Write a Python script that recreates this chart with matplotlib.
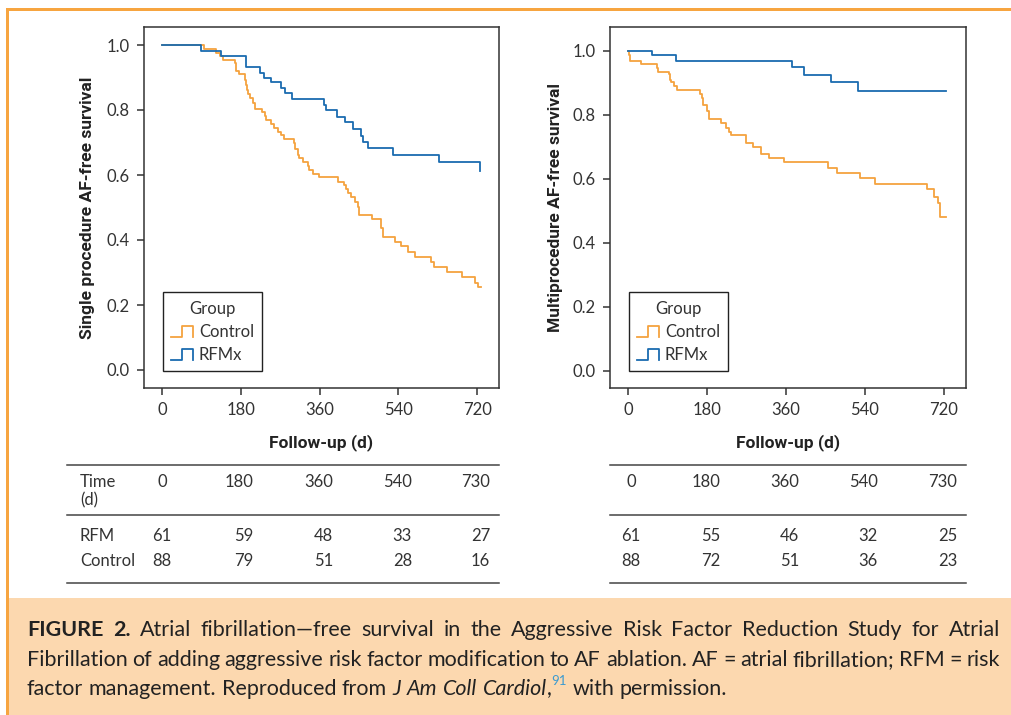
import matplotlib
matplotlib.use('Agg')
import matplotlib.pyplot as plt
from matplotlib.lines import Line2D
from matplotlib.patches import Rectangle
from matplotlib.legend_handler import HandlerBase

W, H = 1012, 715

# single procedure curves (days, survival)
single_rfm_t = [0, 90, 134, 191, 225, 232, 248, 273, 280, 298, 371, 375, 399, 419, 436,
                455, 460, 470, 527, 633, 726]
single_rfm_s = [1.0, 0.982, 0.966, 0.932, 0.915, 0.897, 0.885, 0.867, 0.851, 0.833, 0.815,
                0.799, 0.779, 0.762, 0.743, 0.720, 0.703, 0.684, 0.662, 0.639, 0.612]
single_ctrl_t = [0, 96, 124, 132, 140, 166, 170, 176, 189, 191, 194, 197, 202, 208, 212,
                 229, 235, 238, 250, 257, 265, 273, 278, 301, 305, 311, 314, 322, 333, 337,
                 346, 358, 402, 415, 421, 424, 432, 440, 447, 451, 479, 500, 504, 533, 546,
                 561, 579, 614, 622, 652, 685, 715, 721, 728]
single_ctrl_s = [1.0, 0.987, 0.976, 0.966, 0.954, 0.944, 0.921, 0.910, 0.892, 0.877, 0.862,
                 0.849, 0.836, 0.821, 0.803, 0.795, 0.782, 0.769, 0.757, 0.744, 0.733, 0.723,
                 0.710, 0.697, 0.679, 0.662, 0.651, 0.641, 0.628, 0.615, 0.603, 0.593, 0.579,
                 0.569, 0.556, 0.544, 0.531, 0.518, 0.503, 0.477, 0.464, 0.436, 0.408, 0.395,
                 0.382, 0.364, 0.349, 0.333, 0.318, 0.303, 0.285, 0.269, 0.254, 0.254]

# multiprocedure curves
multi_rfm_t = [0, 55, 109, 374, 401, 462, 525, 724]
multi_rfm_s = [1.0, 0.988, 0.969, 0.948, 0.925, 0.901, 0.873, 0.873]
multi_ctrl_t = [0, 2, 5, 29, 65, 69, 93, 96, 99, 105, 111, 164, 168, 172, 179, 185, 213,
                223, 230, 235, 269, 285, 302, 322, 355, 456, 475, 528, 563, 682, 696, 707,
                711, 724]
multi_ctrl_s = [1.0, 0.986, 0.969, 0.957, 0.945, 0.934, 0.926, 0.910, 0.901, 0.891, 0.876,
                0.864, 0.853, 0.830, 0.810, 0.786, 0.773, 0.760, 0.747, 0.738, 0.713, 0.700,
                0.676, 0.666, 0.651, 0.635, 0.619, 0.603, 0.584, 0.567, 0.544, 0.523, 0.481,
                0.481]

x_ticks = [0, 180, 360, 540, 720]
y_ticks = [0.0, 0.2, 0.4, 0.6, 0.8, 1.0]

table_times = ['0', '180', '360', '540', '730']
single_rfm_n = [61, 59, 48, 33, 27]
single_ctrl_n = [88, 79, 51, 28, 16]
multi_rfm_n = [61, 55, 46, 32, 25]
multi_ctrl_n = [88, 72, 51, 36, 23]

ORANGE = '#F5A33F'
BLUE = '#1A6BB0'
BORDER = '#F7A540'
CAPTION_BG = '#FCD8AF'
TEXT = '#333333'

plt.rcParams['font.family'] = ['Lato', 'DejaVu Sans']

fig = plt.figure(figsize=(W / 100, H / 100), dpi=100)


def fx(x):
    return x / W


def fy(y):
    return 1 - y / H


class StepHandler(HandlerBase):
    def create_artists(self, legend, orig_handle, xdescent, ydescent, width, height,
                       fontsize, trans):
        x0, y0 = -xdescent, -ydescent
        lo, hi = y0 + 0.0 * height, y0 + 0.9 * height
        xs = [x0, x0 + 0.5 * width, x0 + 0.5 * width, x0 + width, x0 + width]
        ys = [lo, lo, hi, hi, lo]
        line = Line2D(xs, ys, color=orig_handle.get_color(), lw=1.3, transform=trans)
        return [line]


def draw_panel(left, right, t_ctrl, s_ctrl, t_rfm, s_rfm, ylabel, ylabel_x, y_one, y_zero):
    top, bottom = 27, 388
    ax = fig.add_axes([fx(left), fy(bottom), (right - left) / W, (bottom - top) / H])
    ax.step(t_ctrl, s_ctrl, where='post', color=ORANGE, lw=1.3, label='Control')
    ax.step(t_rfm, s_rfm, where='post', color=BLUE, lw=1.3, label='RFMx')

    # axis limits from pixel positions of 0 / 1
    per = y_zero - y_one
    ax.set_ylim(-(bottom - y_zero) / per, 1 + (y_one - top) / per)
    ax.set_xlim(-41, 770)
    ax.set_xticks(x_ticks)
    ax.set_yticks(y_ticks)
    ax.set_yticklabels(['%.1f' % v for v in y_ticks])
    ax.tick_params(direction='out', length=5, width=1.1, colors='#333333',
                   labelsize=12, labelcolor=TEXT, pad=5)
    for sp in ax.spines.values():
        sp.set_color('#333333')
        sp.set_linewidth(1.1)

    ax.set_xlabel('Follow-up (d)', fontsize=12.5, fontweight='bold', family='Roboto',
                  color='#222222')
    ax.xaxis.set_label_coords(0.5, -(434 - bottom) / (bottom - top))
    ax.set_ylabel(ylabel, fontsize=12.5, fontweight='bold', family='Roboto', color='#222222')
    ax.yaxis.label.set_va('center')
    ax.yaxis.set_label_coords((ylabel_x - left) / (right - left), 0.5)

    leg = ax.legend(title='Group', loc='lower left',
                    bbox_to_anchor=(19 / (right - left), (bottom - 371) / (bottom - top)),
                    borderaxespad=0, fontsize=12, title_fontsize=12, frameon=True,
                    fancybox=False, framealpha=1, edgecolor='#222222',
                    handlelength=1.3, handletextpad=0.35, labelspacing=0.42,
                    borderpad=0.5, handler_map={Line2D: StepHandler()})
    leg.get_frame().set_linewidth(1.0)
    for t in leg.get_texts():
        t.set_color(TEXT)
    leg.get_title().set_color(TEXT)
    return ax


draw_panel(144, 499, single_ctrl_t, single_ctrl_s, single_rfm_t, single_rfm_s,
           'Single procedure AF-free survival', 88, 45, 370)
draw_panel(610, 966, multi_ctrl_t, multi_ctrl_s, multi_rfm_t, multi_rfm_s,
           'Multiprocedure AF-free survival', 556, 50.7, 370.7)


def hline(x0, x1, y):
    fig.add_artist(Line2D([fx(x0), fx(x1)], [fy(y), fy(y)], color='#444444', lw=1.1,
                          transform=fig.transFigure))


def draw_table(x0, x1, first_col, cols, rfm_n, ctrl_n, with_labels):
    hline(x0, x1, 465)
    hline(x0, x1, 515)
    hline(x0, x1, 583)
    kw = dict(fontsize=12, color=TEXT, va='center')
    if with_labels:
        fig.text(fx(80), fy(482), 'Time', ha='left', **kw)
        fig.text(fx(80), fy(500), '(d)', ha='left', **kw)
        fig.text(fx(80), fy(536), 'RFM', ha='left', **kw)
        fig.text(fx(80), fy(561), 'Control', ha='left', **kw)
    xs = [first_col] + cols
    for i, x in enumerate(xs):
        ha = 'center' if i == 0 else 'right'
        fig.text(fx(x), fy(482), table_times[i], ha=ha, **kw)
        fig.text(fx(x), fy(536), str(rfm_n[i]), ha=ha, **kw)
        fig.text(fx(x), fy(561), str(ctrl_n[i]), ha=ha, **kw)


draw_table(67, 499, 162, [253, 333, 412, 490], single_rfm_n, single_ctrl_n, True)
draw_table(610, 966, 631, [720, 799, 878, 957], multi_rfm_n, multi_ctrl_n, False)

# frame and caption box
fig.add_artist(Rectangle((fx(9), fy(715)), (W - 9) / W, (715 - 598) / H,
                         transform=fig.transFigure, color=CAPTION_BG, lw=0))
fig.add_artist(Rectangle((fx(6), fy(11)), (W - 6) / W, 3 / H,
                         transform=fig.transFigure, color=BORDER, lw=0))
fig.add_artist(Rectangle((fx(6), fy(715)), 3 / W, (715 - 8) / H,
                         transform=fig.transFigure, color=BORDER, lw=0))


# caption, justified like the journal layout
def words(s, style='n'):
    return [[(w, style)] for w in s.split()]


caption_lines = [
    words('FIGURE 2.', 'b') + words('Atrial fibrillation—free survival in the Aggressive '
                                    'Risk Factor Reduction Study for Atrial'),
    words('Fibrillation of adding aggressive risk factor modification to AF ablation. '
          'AF = atrial fibrillation; RFM = risk'),
    words('factor management. Reproduced from') + words('J Am Coll', 'i')
    + [[('Cardiol', 'i'), (',', 'n'), ('91', 'sup')]] + words('with permission.'),
]
caption_base = [636, 666, 695]

renderer = fig.canvas.get_renderer()


def seg_props(style, fs):
    p = dict(fontsize=fs, color='#222222')
    if style == 'b':
        p['fontweight'] = 'bold'
    elif style == 'i':
        p['fontstyle'] = 'italic'
    elif style == 'sup':
        p['fontsize'] = fs * 0.62
        p['color'] = '#3A9AD0'
    return p


def text_width(s, props):
    t = fig.text(0, 0, s, **props)
    w = t.get_window_extent(renderer).width
    t.remove()
    return w


def line_widths(line, fs):
    ws = []
    for word in line:
        ws.append(sum(text_width(s, seg_props(st, fs)) for s, st in word))
    return ws


fs0 = 14
space0 = text_width('x x', seg_props('n', fs0)) - text_width('xx', seg_props('n', fs0))
w3 = sum(line_widths(caption_lines[2], fs0)) + space0 * (len(caption_lines[2]) - 1)
fs = fs0 * 700 / w3
space = space0 * fs / fs0

left_x, right_x = 27, 1000
for i, line in enumerate(caption_lines):
    ws = line_widths(line, fs)
    if i < 2:
        gap = (right_x - left_x - sum(ws)) / (len(line) - 1)
    else:
        gap = space
    x = left_x
    for word, w in zip(line, ws):
        cx = x
        for s, st in word:
            props = seg_props(st, fs)
            y = caption_base[i] - (fs * 0.45 * 100 / 72 if st == 'sup' else 0)
            fig.text(fx(cx), fy(y), s, ha='left', va='baseline', **props)
            cx += text_width(s, props)
        x += w + gap

fig.savefig('out.png', dpi=100)
